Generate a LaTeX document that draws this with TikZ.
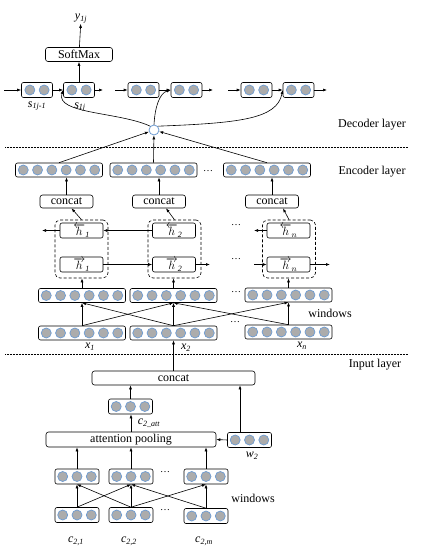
\documentclass[tikz,border=0pt]{standalone}
\usepackage{fontspec}
\setmainfont{Liberation Serif}
\usetikzlibrary{calc,arrows.meta,positioning}
\definecolor{cellblue}{HTML}{6C9BD2}
\tikzset{
    vec/.style = {
        draw,
        rounded corners=2pt,
        minimum height=15pt,
        inner sep=0pt,
        },
    vec2/.style = {vec, minimum width=31pt},
    vec3/.style = {vec, minimum width=44pt},
    vec6/.style = {vec, minimum width=87pt, minimum height=14pt},
    cell/.style = {
        circle,
        draw = cellblue,
        fill = gray!65,
        line width=0.7pt,
        minimum size=10pt,
        inner sep=0pt,
        },
    op/.style = {
        draw,
        rounded corners=2.5pt,
        minimum height=14pt,
        inner sep=1pt,
        font=\fontsize{12}{12}\selectfont,
        },
    hbox/.style = {
        draw,
        rounded corners=2pt,
        minimum width=43pt,
        minimum height=15pt,
        inner sep=0pt,
        font=\fontsize{12}{12}\selectfont,
        },
    pair/.style = {
        draw,
        densely dashed,
        rounded corners=5pt,
        minimum width=53pt,
        minimum height=58pt,
        },
    layer/.style = {
        font=\fontsize{12}{12}\selectfont,
        },
    lbl/.style = {
        font=\fontsize{12}{12}\selectfont\itshape,
        inner sep=0pt,
        },
    sep/.style = {
        densely dotted,
        line width=0.5pt,
        },
}
\newcommand{\cellrow}[2]{%
    \foreach \k in {1,...,#2}
        \node[cell] at ($(#1.center)+({(\k-(#2+1)/2)*14.3},0)$) {};
}

\begin{document}
\begin{tikzpicture}[x=1pt,y=-1pt,line width=0.6pt,>={Latex[length=4pt,width=3pt]}]
    \useasboundingbox (0,0) rectangle (436,556);

    % decoder
    \node[op, minimum width=67pt] (soft) at (79,54.5) {SoftMax};
    \node[lbl] (y) at (81,19) {y\textsubscript{1j}};
    \node[vec2] (d1) at (37,90) {};
    \node[vec2] (d2) at (79,90) {};
    \node[vec2] (d3) at (143.5,90) {};
    \node[vec2] (d4) at (186.5,90) {};
    \node[vec2] (d5) at (256.5,90) {};
    \node[vec2] (d6) at (298.5,90) {};
    \coordinate (din1) at (4,90);
    \coordinate (dout2) at (103,90);
    \coordinate (din3) at (115,90);
    \coordinate (dout4) at (213,90);
    \coordinate (din5) at (228,90);
    \coordinate (dout6) at (327,90);
    \node[lbl] (s1) at (37,106) {s\textsubscript{1j-1}};
    \node[lbl] (s2) at (80,107) {s\textsubscript{1j}};

    \draw[->] (soft) -- (y);
    \draw[->] (d2) -- (soft);
    \foreach \a/\b in {din1/d1, d1/d2, din3/d3, d3/d4, din5/d5, d5/d6}
        \draw[->] (\a) -- (\b.west);
    \foreach \a/\b in {d2/dout2, d4/dout4, d6/dout6}
        \draw[->] (\a.east) -- (\b);

    % attention
    \node[circle, draw=cellblue, fill=white, line width=0.8pt, minimum size=10pt, inner sep=0pt] (att) at (154,130) {};
    \draw[->] (att.north west) .. controls (120,112) and (55,114) .. (d2.west);
    \draw[->] (att.north) .. controls (155,106) and (160,93) .. (d4.west);
    \draw[->] (att.north east) .. controls (240,123) and (277,119) .. (d6.west);

    \draw[sep] (5,147) -- (408,147);
    \node[layer] (dec) at (372,125) {Decoder layer};
    \node[layer] (enc) at (372,172) {Encoder layer};

    % encoder
    \node[vec6] (enc1) at (59,170) {};
    \node[vec6] (enc2) at (153.5,170) {};
    \node[vec6] (enc3) at (267,170) {};
    \node (edots) at (208,171) {\dots};
    \foreach \n in {enc1, enc2, enc3}
        \draw[->] (\n.north) -- (att);

    \node[op, minimum width=53pt, minimum height=13pt] (cc1) at (66.5,201.5) {concat};
    \node[op, minimum width=53pt, minimum height=13pt] (cc2) at (159,201.5) {concat};
    \node[op, minimum width=53pt, minimum height=13pt] (cc3) at (272,201.5) {concat};
    \draw[->] (cc1) -- (cc1 |- enc1.south);
    \draw[->] (cc2) -- (cc2 |- enc2.south);
    \draw[->] (cc3) -- (cc3 |- enc3.south);

    \node[pair] (pr1) at (81.5,249) {};
    \node[pair] (pr2) at (174.5,249) {};
    \node[pair] (pr3) at (289,249) {};
    \node[hbox] (hb1) at (81.5,230.5) {$\overleftarrow{h}_{\mathit{1}}$};
    \node[hbox] (hf1) at (81.5,264.5) {$\overrightarrow{h}_{\mathit{1}}$};
    \node[hbox] (hb2) at (174,230.5) {$\overleftarrow{h}_{\mathit{2}}$};
    \node[hbox] (hf2) at (174,264.5) {$\overrightarrow{h}_{\mathit{2}}$};
    \node[hbox] (hbn) at (288.5,230.5) {$\overleftarrow{h}_{n}$};
    \node[hbox] (hfn) at (288.5,264.5) {$\overrightarrow{h}_{n}$};
    \draw[->] (pr1.north) -- ($(cc1.south)+(5,0)$);
    \draw[->] (pr2.north) -- ($(cc2.south)+(7,0)$);
    \draw[->] (pr3.north) -- ($(cc3.south)+(11,0)$);

    \coordinate (hbout1) at (42,230.5);
    \coordinate (hboutn) at (254,230.5);
    \coordinate (hfout2) at (210,264.5);
    \coordinate (hfinn) at (254,264.5);
    \coordinate (hfoutn) at (330,264.5);
    \draw[->] (hb2.west) -- (hb1.east);
    \draw[->] (hb1.west) -- (hbout1);
    \draw[->] (hbn.west) -- (hboutn);
    \draw[->] (hf1.east) -- (hf2.west);
    \draw[->] (hf2.east) -- (hfout2);
    \draw[->] (hfinn) -- (hfn.west);
    \draw[->] (hfn.east) -- (hfoutn);
    \node (hbdots) at (236,225) {\dots};
    \node (hfdots) at (236,259) {\dots};

    % windows over the words
    \node[vec6] (win1) at (82,295.5) {};
    \node[vec6] (win2) at (173.5,295.5) {};
    \node[vec6] (win3) at (288.5,295) {};
    \node (wdots) at (236,292) {\dots};
    \draw[->] (win1) -- (win1 |- pr1.south);
    \draw[->] (win2) -- (win2 |- pr2.south);
    \draw[->] (win3) -- (win3 |- pr3.south);

    \node[vec6] (x1) at (82,333) {};
    \node[vec6] (x2) at (173.5,333) {};
    \node[vec6] (x3) at (288.5,332) {};
    \node (xdots) at (235,322) {\dots};
    \node[lbl] (x1l) at (90,347) {x\textsubscript{1}};
    \node[lbl] (x2l) at (186,348) {x\textsubscript{2}};
    \node[lbl] (x3l) at (302,346) {x\textsubscript{n}};
    \foreach \a/\b in {x1/win1, x1/win2, x2/win1, x2/win2, x2/win3, x3/win2, x3/win3}
        \draw[->] (\a.north) -- (\b.south);
    \node[layer] (wl1) at (330,313) {windows};

    % input
    \draw[sep] (5,354) -- (408,354);
    \node[layer] (inp) at (375,365) {Input layer};
    \node[op, minimum width=163pt] (icc) at (173.5,378) {concat};
    \draw[->] (icc) -- (icc |- x2.south);

    \node[vec3] (catt) at (130.5,406.5) {};
    \node[lbl] (cattl) at (149,423) {c\textsubscript{2\_att}};
    \node[op, minimum width=170pt, minimum height=15pt] (ap) at (131,439.5) {attention pooling};
    \node[vec3] (w2) at (249.5,440) {};
    \node[lbl] (w2l) at (252,456) {w\textsubscript{2}};
    \coordinate (w2up) at (240,432);
    \draw[->] (catt) -- (catt |- icc.south);
    \draw[->] (ap) -- (ap |- catt.south);
    \draw[->] (w2.west) -- (ap.east);
    \draw[->] (w2up) -- (w2up |- icc.south);

    \node[vec3] (lw1) at (77,476.5) {};
    \node[vec3] (lw2) at (131,476.5) {};
    \node[vec3] (lw3) at (206,476.5) {};
    \node (lwdots) at (165,472) {\dots};
    \foreach \n in {lw1, lw2, lw3}
        \draw[->] (\n) -- (\n |- ap.south);

    \node[vec3] (c1) at (77,515) {};
    \node[vec3] (c2) at (131,515) {};
    \node[vec3] (c3) at (206,516) {};
    \node (cdots) at (165,510) {\dots};
    \node[lbl] (c1l) at (76,541) {c\textsubscript{2,1}};
    \node[lbl] (c2l) at (129,541) {c\textsubscript{2,2}};
    \node[lbl] (c3l) at (204,541) {c\textsubscript{2,m}};
    \foreach \a/\b in {c1/lw1, c1/lw2, c2/lw1, c2/lw2, c2/lw3, c3/lw2, c3/lw3}
        \draw[->] (\a.north) -- (\b.south);
    \node[layer] (wl2) at (253,498) {windows};

    % cells
    \foreach \n/\c in {d1/2, d2/2, d3/2, d4/2, d5/2, d6/2,
                      enc1/6, enc2/6, enc3/6, win1/6, win2/6, win3/6, x1/6, x2/6, x3/6,
                      catt/3, w2/3, lw1/3, lw2/3, lw3/3, c1/3, c2/3, c3/3}
        {\cellrow{\n}{\c}}
\end{tikzpicture}
\end{document}
